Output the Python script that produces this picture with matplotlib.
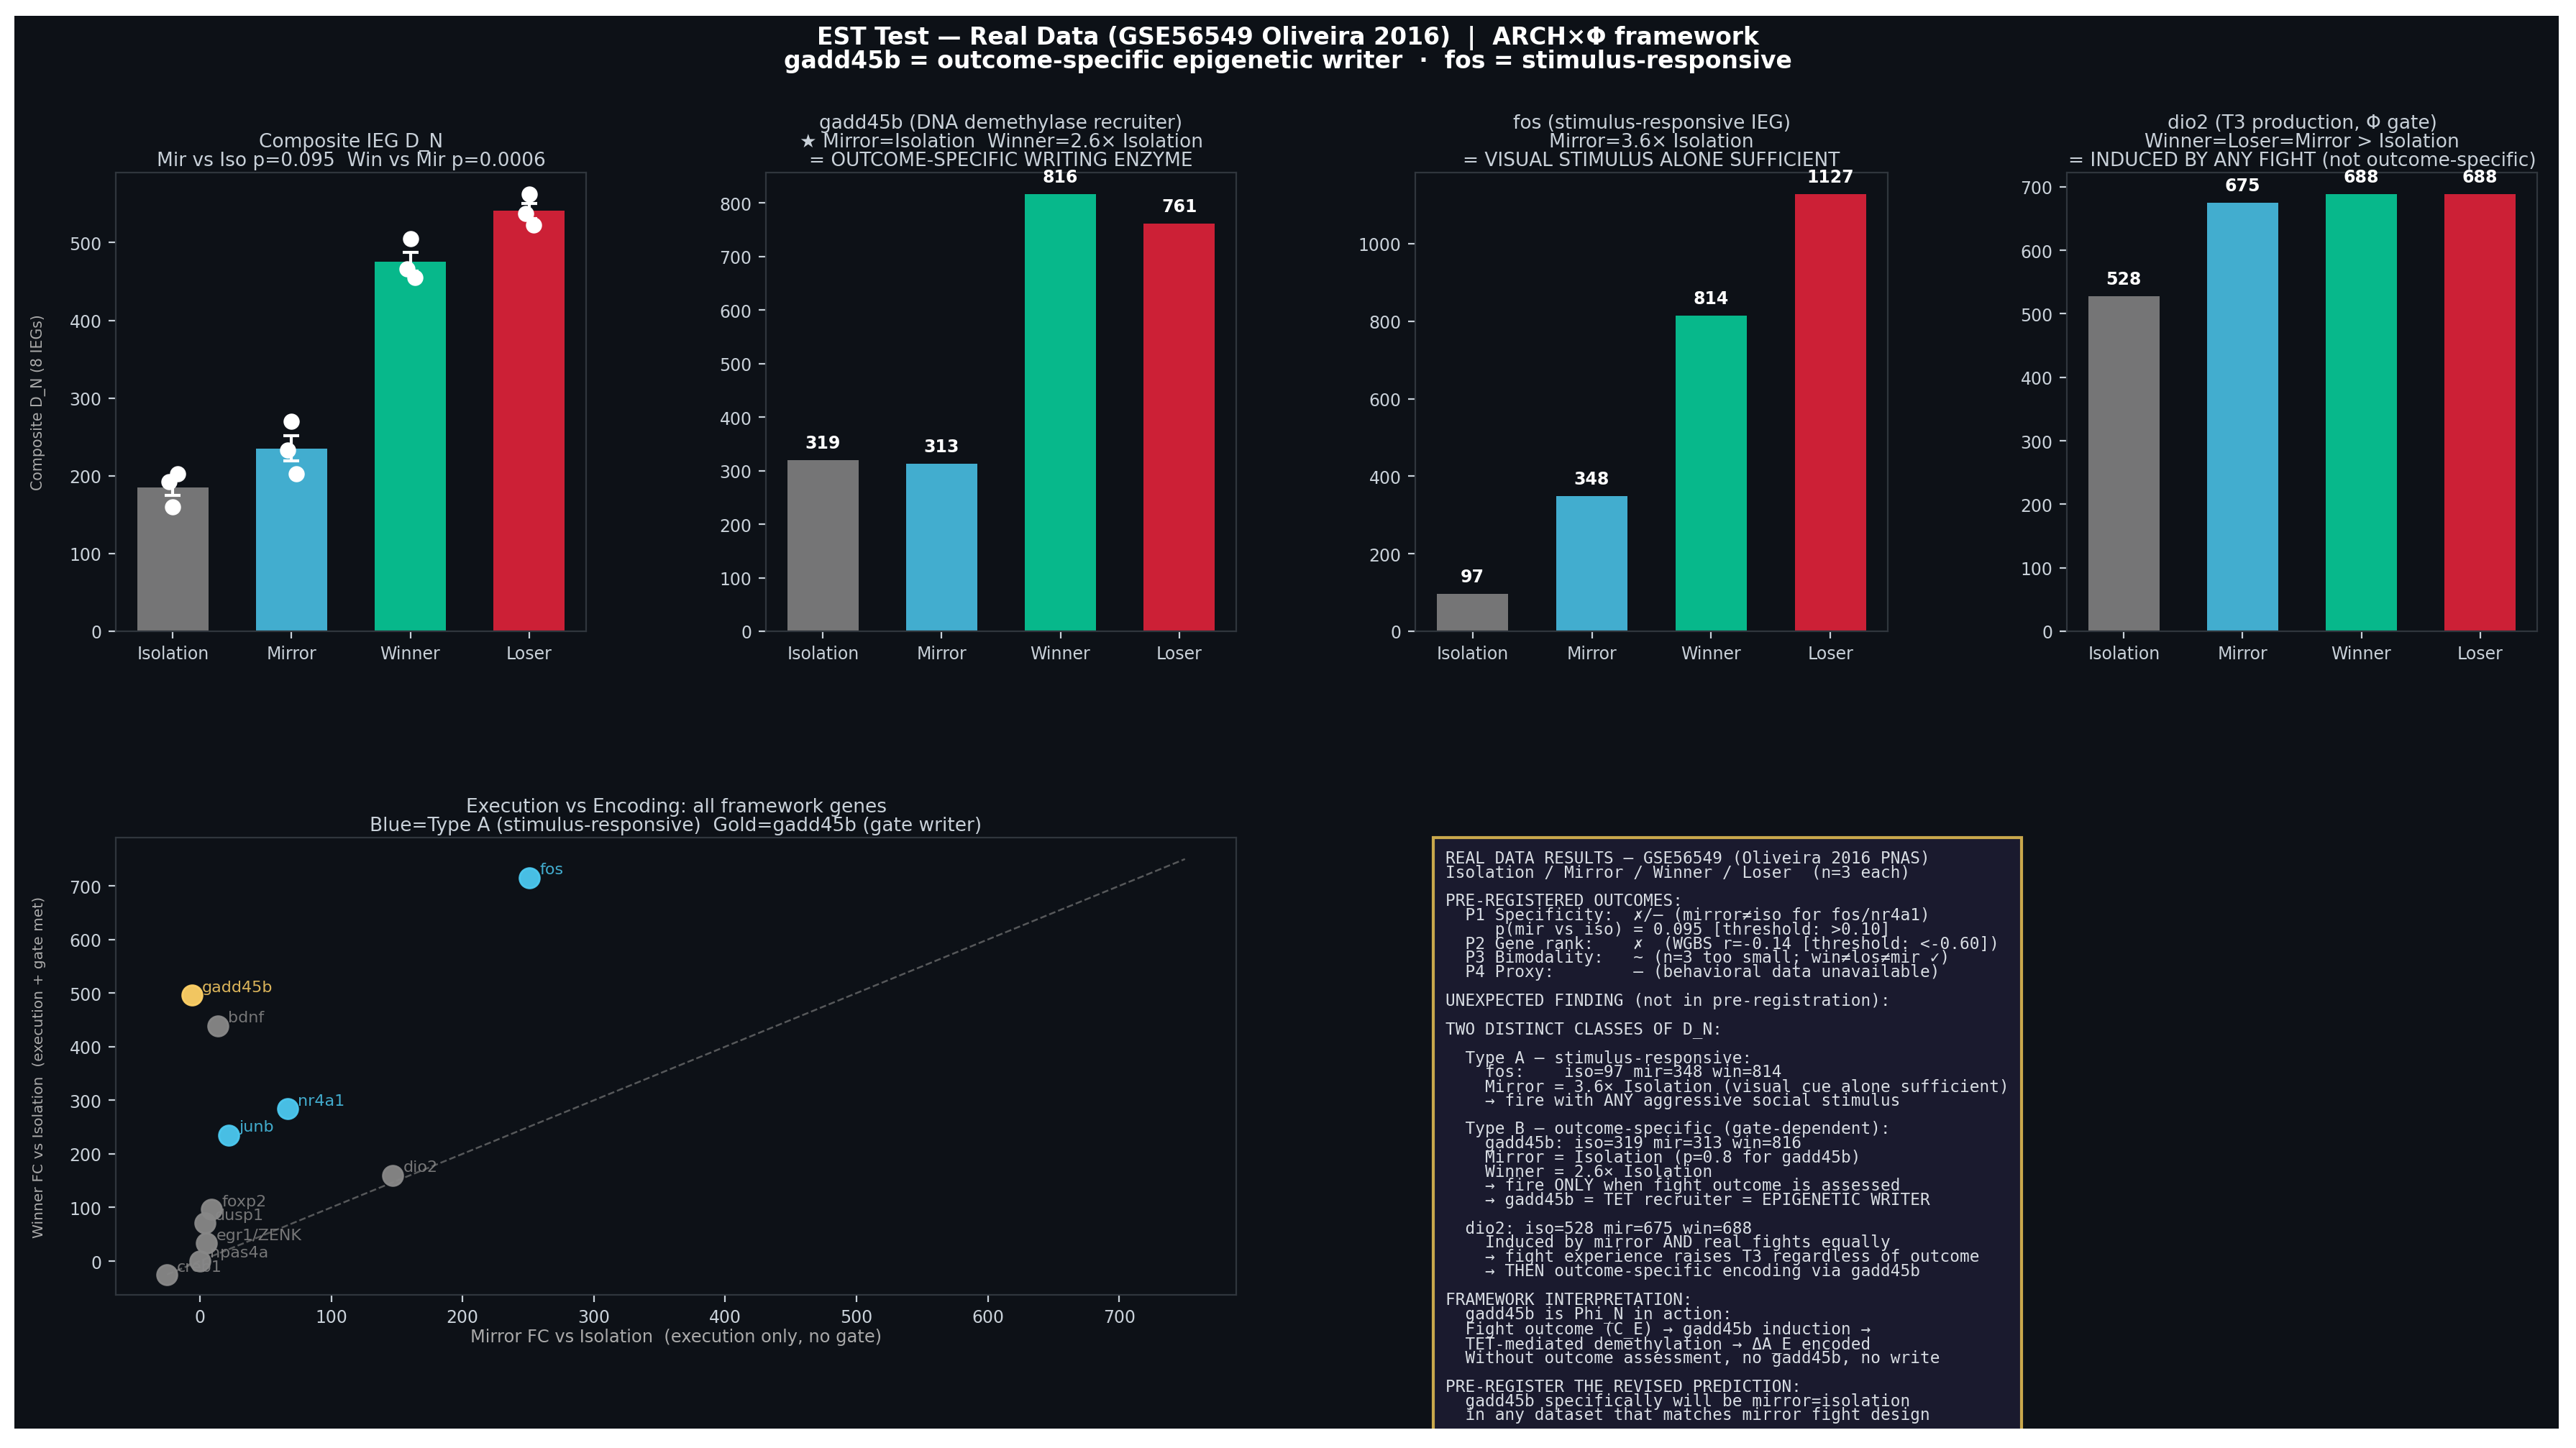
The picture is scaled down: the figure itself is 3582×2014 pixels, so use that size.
import numpy as np
import matplotlib
matplotlib.use('Agg')
import matplotlib.pyplot as plt
from matplotlib.patches import Rectangle
from matplotlib.ticker import MultipleLocator

# -- data
groups = ['Isolation', 'Mirror', 'Winner', 'Loser']

composite_iso = [160, 192, 203]
composite_mir = [270, 233, 203]
composite_win = [505, 466, 455]
composite_los = [562, 537, 523]

gadd45b_vals = [319, 313, 816, 761]
fos_vals = [97, 348, 814, 1127]
dio2_vals = [528, 675, 688, 688]

genes = ['creb1', 'npas4a', 'egr1/ZENK', 'dusp1', 'foxp2', 'dio2',
         'bdnf', 'junb', 'nr4a1', 'gadd45b', 'fos']
mirror_fc = [-25, 0, 5, 4, 9, 147, 14, 22, 67, -6, 251]
winner_fc = [-26, 0, 33, 71, 96, 160, 439, 235, 284, 496, 715]
gene_type = ['other', 'other', 'other', 'other', 'other', 'other',
             'other', 'A', 'A', 'B', 'A']

summary = """REAL DATA RESULTS — GSE56549 (Oliveira 2016 PNAS)
Isolation / Mirror / Winner / Loser  (n=3 each)

PRE-REGISTERED OUTCOMES:
  P1 Specificity:  ✗/– (mirror≠iso for fos/nr4a1)
     p(mir vs iso) = 0.095 [threshold: >0.10]
  P2 Gene rank:    ✗  (WGBS r=-0.14 [threshold: <-0.60])
  P3 Bimodality:   ~ (n=3 too small; win≠los≠mir ✓)
  P4 Proxy:        — (behavioral data unavailable)

UNEXPECTED FINDING (not in pre-registration):

TWO DISTINCT CLASSES OF D_N:

  Type A — stimulus-responsive:
    fos:    iso=97 mir=348 win=814
    Mirror = 3.6× Isolation (visual cue alone sufficient)
    → fire with ANY aggressive social stimulus

  Type B — outcome-specific (gate-dependent):
    gadd45b: iso=319 mir=313 win=816
    Mirror = Isolation (p=0.8 for gadd45b)
    Winner = 2.6× Isolation
    → fire ONLY when fight outcome is assessed
    → gadd45b = TET recruiter = EPIGENETIC WRITER

  dio2: iso=528 mir=675 win=688
    Induced by mirror AND real fights equally
    → fight experience raises T3 regardless of outcome
    → THEN outcome-specific encoding via gadd45b

FRAMEWORK INTERPRETATION:
  gadd45b is Phi_N in action:
  Fight outcome (C_E) → gadd45b induction →
  TET-mediated demethylation → ΔA_E encoded
  Without outcome assessment, no gadd45b, no write

PRE-REGISTER THE REVISED PREDICTION:
  gadd45b specifically will be mirror=isolation
  in any dataset that matches mirror fight design"""

# -- style
BG = '#0d1117'
FG = '#c9d1d9'
SPINE = '#30363d'
colors = ['#888888', '#4cc9f0', '#06d6a0', '#ef233c']
type_colors = {'A': '#4cc9f0', 'B': '#ffd166', 'other': '#888888'}

plt.rcParams['font.family'] = ['DejaVu Sans']
plt.rcParams['text.color'] = FG
plt.rcParams['axes.labelcolor'] = FG
plt.rcParams['xtick.color'] = FG
plt.rcParams['ytick.color'] = FG

W, H = 3582, 2015
DPI = 200
fig = plt.figure(figsize=(W / DPI, H / DPI), dpi=DPI, facecolor='white')

# dark canvas with a thin white margin
fig.patches.append(Rectangle((20 / W, 1 - 1988 / H), 3538 / W, 1965 / H,
                             transform=fig.transFigure, facecolor=BG,
                             edgecolor='none', zorder=-10))
fig.patches.append(Rectangle((0, 0), 1, 27 / H, transform=fig.transFigure,
                             facecolor='white', edgecolor='none', zorder=100))


def px_axes(l, r, t, b):
    ax = fig.add_axes([l / W, 1 - b / H, (r - l) / W, (b - t) / H])
    ax.set_facecolor(BG)
    for sp in ax.spines.values():
        sp.set_color(SPINE)
    ax.tick_params(labelsize=8.5, colors=FG)
    return ax


fig.text(0.5, 1 - 53 / H,
         'EST Test — Real Data (GSE56549 Oliveira 2016)  |  ARCH×Φ framework',
         ha='center', va='center', fontsize=11.9, fontweight='bold', color='white')
fig.text(0.5, 1 - 85 / H,
         'gadd45b = outcome-specific epigenetic writer  ·  fos = stimulus-responsive',
         ha='center', va='center', fontsize=11.9, fontweight='bold', color='white')

x = np.arange(len(groups))
title_kw = dict(fontsize=9.5, color=FG, linespacing=1.0, pad=3.5)

# -- composite panel
ax1 = px_axes(161, 815, 241, 879)
reps = [composite_iso, composite_mir, composite_win, composite_los]
means = [np.mean(r) for r in reps]
sems = [np.std(r) / np.sqrt(len(r)) for r in reps]
ax1.bar(x, means, width=0.6, color=colors, alpha=0.85)
ax1.errorbar(x, means, yerr=sems, fmt='none', ecolor='white', capsize=4,
             elinewidth=1.5, capthick=1.5)
offs = [0.0, -0.03, 0.04]
for i, r in enumerate(reps):
    ax1.scatter(i + np.array(offs), r, s=50, color='white', zorder=5)
ax1.set_xticks(x)
ax1.set_xticklabels(groups)
ax1.yaxis.set_major_locator(MultipleLocator(100))
ax1.set_ylabel('Composite D_N (8 IEGs)', fontsize=7.4, color='#aaaaaa',
               labelpad=11.5)
ax1.set_title('Composite IEG D_N\nMir vs Iso p=0.095  Win vs Mir p=0.0006',
              **title_kw)

# -- single-gene panels
panels = [
    (1065, 1719, gadd45b_vals, 100,
     'gadd45b (DNA demethylase recruiter)\n★ Mirror=Isolation  Winner=2.6× Isolation\n= OUTCOME-SPECIFIC WRITING ENZYME'),
    (1968, 2625, fos_vals, 200,
     'fos (stimulus-responsive IEG)\nMirror=3.6× Isolation\n= VISUAL STIMULUS ALONE SUFFICIENT'),
    (2874, 3528, dio2_vals, 100,
     'dio2 (T3 production, Φ gate)\nWinner=Loser=Mirror > Isolation\n= INDUCED BY ANY FIGHT (not outcome-specific)'),
]
for l, r, vals, step, title in panels:
    ax = px_axes(l, r, 241, 879)
    ax.bar(x, vals, width=0.6, color=colors, alpha=0.85)
    top = max(vals)
    for xi, v in zip(x, vals):
        ax.text(xi, v + top * 0.02, f'{v}', ha='center', va='bottom',
                fontsize=8.5, fontweight='bold', color='white')
    ax.set_xticks(x)
    ax.set_xticklabels(groups)
    ax.yaxis.set_major_locator(MultipleLocator(step))
    ax.set_title(title, **title_kw)

# -- scatter panel
axs = px_axes(161, 1719, 1166, 1802)
axs.plot([-25, 750], [-25, 750], ls='--', color='#888888', lw=0.9, alpha=0.6)
for g, mx, wy, t in zip(genes, mirror_fc, winner_fc, gene_type):
    c = type_colors[t]
    axs.scatter(mx, wy, s=100, color=c, alpha=0.95, zorder=5)
    axs.annotate(g, (mx, wy), textcoords='offset points', xytext=(5, 2),
                 fontsize=8, color=c, alpha=0.85)
axs.set_xlim(-64, 789)
axs.set_ylim(-63, 790)
axs.xaxis.set_major_locator(MultipleLocator(100))
axs.yaxis.set_major_locator(MultipleLocator(100))
axs.set_xlabel('Mirror FC vs Isolation  (execution only, no gate)',
               fontsize=8.7, color='#aaaaaa', labelpad=1)
axs.set_ylabel('Winner FC vs Isolation  (execution + gate met)',
               fontsize=7.3, color='#aaaaaa', labelpad=11.5)
axs.set_title('Execution vs Encoding: all framework genes\n'
              'Blue=Type A (stimulus-responsive)  Gold=gadd45b (gate writer)',
              **title_kw)

# -- summary box
fig.text(2010 / W, 1 - 1183 / H, summary, ha='left', va='top',
         fontsize=8.2, linespacing=0.82,
         family=['DejaVu Sans Mono', 'DejaVu Sans'], color='#d8dde3',
         bbox=dict(boxstyle='square,pad=0.75', facecolor='#1a1a2e',
                   edgecolor='#c9a84c', linewidth=1.5))

fig.savefig('out.png', dpi=DPI, facecolor=fig.get_facecolor())
